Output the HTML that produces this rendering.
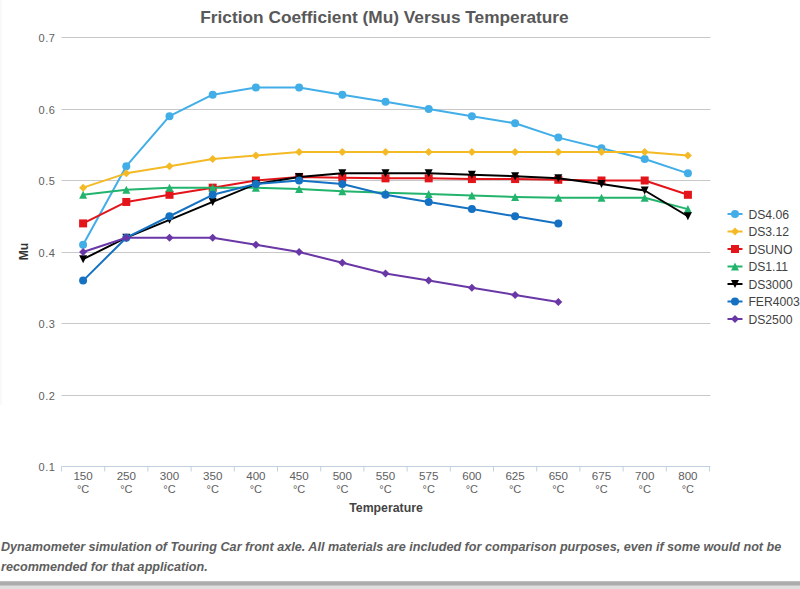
<!DOCTYPE html>
<html><head><meta charset="utf-8"><style>
html,body{margin:0;padding:0;background:#fff;}
body{width:800px;height:589px;position:relative;overflow:hidden;}
.cap{position:absolute;left:1px;top:536.5px;width:800px;font-family:"Liberation Sans",sans-serif;font-weight:bold;font-style:italic;font-size:12.62px;line-height:20.2px;color:#5e5e5e;white-space:nowrap;}
.shadow{position:absolute;left:0;top:581px;width:800px;height:8px;background:linear-gradient(#BEBEBE 0,#BEBEBE 1px,#ACACAC 1px,#ACACAC 4px,#C4C4C4 4px,#C4C4C4 5px,#DEDEDE 5px);}
.edge{position:absolute;left:0;top:0;width:2px;height:405px;background:#F9F9F9;}
</style></head><body>
<div class="edge"></div>
<svg width="800" height="525" viewBox="0 0 800 525" style="position:absolute;left:0;top:0"><path d="M61.5 37.5H710.5" stroke="#C8C8C8" stroke-width="1" fill="none"/><path d="M61.5 109.5H710.5" stroke="#C8C8C8" stroke-width="1" fill="none"/><path d="M61.5 180.5H710.5" stroke="#C8C8C8" stroke-width="1" fill="none"/><path d="M61.5 252.5H710.5" stroke="#C8C8C8" stroke-width="1" fill="none"/><path d="M61.5 323.5H710.5" stroke="#C8C8C8" stroke-width="1" fill="none"/><path d="M61.5 395.5H710.5" stroke="#C8C8C8" stroke-width="1" fill="none"/><path d="M61.5 466.5H710.5" stroke="#C0D0E0" stroke-width="1" fill="none"/><path d="M61.50 466.5V471.5" stroke="#C0D0E0" stroke-width="1" fill="none"/><path d="M104.70 466.5V471.5" stroke="#C0D0E0" stroke-width="1" fill="none"/><path d="M147.90 466.5V471.5" stroke="#C0D0E0" stroke-width="1" fill="none"/><path d="M191.10 466.5V471.5" stroke="#C0D0E0" stroke-width="1" fill="none"/><path d="M234.30 466.5V471.5" stroke="#C0D0E0" stroke-width="1" fill="none"/><path d="M277.50 466.5V471.5" stroke="#C0D0E0" stroke-width="1" fill="none"/><path d="M320.70 466.5V471.5" stroke="#C0D0E0" stroke-width="1" fill="none"/><path d="M363.90 466.5V471.5" stroke="#C0D0E0" stroke-width="1" fill="none"/><path d="M407.10 466.5V471.5" stroke="#C0D0E0" stroke-width="1" fill="none"/><path d="M450.30 466.5V471.5" stroke="#C0D0E0" stroke-width="1" fill="none"/><path d="M493.50 466.5V471.5" stroke="#C0D0E0" stroke-width="1" fill="none"/><path d="M536.70 466.5V471.5" stroke="#C0D0E0" stroke-width="1" fill="none"/><path d="M579.90 466.5V471.5" stroke="#C0D0E0" stroke-width="1" fill="none"/><path d="M623.10 466.5V471.5" stroke="#C0D0E0" stroke-width="1" fill="none"/><path d="M666.30 466.5V471.5" stroke="#C0D0E0" stroke-width="1" fill="none"/><path d="M709.50 466.5V471.5" stroke="#C0D0E0" stroke-width="1" fill="none"/><text x="55.6" y="42.0" text-anchor="end" font-size="11" letter-spacing="0.6" fill="#606060" font-family="Liberation Sans, sans-serif">0.7</text><text x="55.6" y="114.0" text-anchor="end" font-size="11" letter-spacing="0.6" fill="#606060" font-family="Liberation Sans, sans-serif">0.6</text><text x="55.6" y="185.0" text-anchor="end" font-size="11" letter-spacing="0.6" fill="#606060" font-family="Liberation Sans, sans-serif">0.5</text><text x="55.6" y="257.0" text-anchor="end" font-size="11" letter-spacing="0.6" fill="#606060" font-family="Liberation Sans, sans-serif">0.4</text><text x="55.6" y="328.0" text-anchor="end" font-size="11" letter-spacing="0.6" fill="#606060" font-family="Liberation Sans, sans-serif">0.3</text><text x="55.6" y="400.0" text-anchor="end" font-size="11" letter-spacing="0.6" fill="#606060" font-family="Liberation Sans, sans-serif">0.2</text><text x="55.6" y="471.0" text-anchor="end" font-size="11" letter-spacing="0.6" fill="#606060" font-family="Liberation Sans, sans-serif">0.1</text><text x="83.1" y="479.6" text-anchor="middle" font-size="11.6" fill="#606060" font-family="Liberation Sans, sans-serif">150</text><text x="83.1" y="493" text-anchor="middle" font-size="11" fill="#606060" font-family="Liberation Sans, sans-serif">°C</text><text x="126.3" y="479.6" text-anchor="middle" font-size="11.6" fill="#606060" font-family="Liberation Sans, sans-serif">250</text><text x="126.3" y="493" text-anchor="middle" font-size="11" fill="#606060" font-family="Liberation Sans, sans-serif">°C</text><text x="169.5" y="479.6" text-anchor="middle" font-size="11.6" fill="#606060" font-family="Liberation Sans, sans-serif">300</text><text x="169.5" y="493" text-anchor="middle" font-size="11" fill="#606060" font-family="Liberation Sans, sans-serif">°C</text><text x="212.7" y="479.6" text-anchor="middle" font-size="11.6" fill="#606060" font-family="Liberation Sans, sans-serif">350</text><text x="212.7" y="493" text-anchor="middle" font-size="11" fill="#606060" font-family="Liberation Sans, sans-serif">°C</text><text x="255.9" y="479.6" text-anchor="middle" font-size="11.6" fill="#606060" font-family="Liberation Sans, sans-serif">400</text><text x="255.9" y="493" text-anchor="middle" font-size="11" fill="#606060" font-family="Liberation Sans, sans-serif">°C</text><text x="299.1" y="479.6" text-anchor="middle" font-size="11.6" fill="#606060" font-family="Liberation Sans, sans-serif">450</text><text x="299.1" y="493" text-anchor="middle" font-size="11" fill="#606060" font-family="Liberation Sans, sans-serif">°C</text><text x="342.3" y="479.6" text-anchor="middle" font-size="11.6" fill="#606060" font-family="Liberation Sans, sans-serif">500</text><text x="342.3" y="493" text-anchor="middle" font-size="11" fill="#606060" font-family="Liberation Sans, sans-serif">°C</text><text x="385.5" y="479.6" text-anchor="middle" font-size="11.6" fill="#606060" font-family="Liberation Sans, sans-serif">550</text><text x="385.5" y="493" text-anchor="middle" font-size="11" fill="#606060" font-family="Liberation Sans, sans-serif">°C</text><text x="428.7" y="479.6" text-anchor="middle" font-size="11.6" fill="#606060" font-family="Liberation Sans, sans-serif">575</text><text x="428.7" y="493" text-anchor="middle" font-size="11" fill="#606060" font-family="Liberation Sans, sans-serif">°C</text><text x="471.9" y="479.6" text-anchor="middle" font-size="11.6" fill="#606060" font-family="Liberation Sans, sans-serif">600</text><text x="471.9" y="493" text-anchor="middle" font-size="11" fill="#606060" font-family="Liberation Sans, sans-serif">°C</text><text x="515.1" y="479.6" text-anchor="middle" font-size="11.6" fill="#606060" font-family="Liberation Sans, sans-serif">625</text><text x="515.1" y="493" text-anchor="middle" font-size="11" fill="#606060" font-family="Liberation Sans, sans-serif">°C</text><text x="558.3" y="479.6" text-anchor="middle" font-size="11.6" fill="#606060" font-family="Liberation Sans, sans-serif">650</text><text x="558.3" y="493" text-anchor="middle" font-size="11" fill="#606060" font-family="Liberation Sans, sans-serif">°C</text><text x="601.5" y="479.6" text-anchor="middle" font-size="11.6" fill="#606060" font-family="Liberation Sans, sans-serif">675</text><text x="601.5" y="493" text-anchor="middle" font-size="11" fill="#606060" font-family="Liberation Sans, sans-serif">°C</text><text x="644.7" y="479.6" text-anchor="middle" font-size="11.6" fill="#606060" font-family="Liberation Sans, sans-serif">700</text><text x="644.7" y="493" text-anchor="middle" font-size="11" fill="#606060" font-family="Liberation Sans, sans-serif">°C</text><text x="687.9" y="479.6" text-anchor="middle" font-size="11.6" fill="#606060" font-family="Liberation Sans, sans-serif">800</text><text x="687.9" y="493" text-anchor="middle" font-size="11" fill="#606060" font-family="Liberation Sans, sans-serif">°C</text><path d="M83.10 244.85 L126.30 166.20 L169.50 116.15 L212.70 94.70 L255.90 87.55 L299.10 87.55 L342.30 94.70 L385.50 101.85 L428.70 109.00 L471.90 116.15 L515.10 123.30 L558.30 137.60 L601.50 148.32 L644.70 159.05 L687.90 173.35" stroke="#42AEE8" stroke-width="2" fill="none" stroke-linejoin="round" stroke-linecap="round"/><circle cx="83.10" cy="244.85" r="4" fill="#42AEE8"/><circle cx="126.30" cy="166.20" r="4" fill="#42AEE8"/><circle cx="169.50" cy="116.15" r="4" fill="#42AEE8"/><circle cx="212.70" cy="94.70" r="4" fill="#42AEE8"/><circle cx="255.90" cy="87.55" r="4" fill="#42AEE8"/><circle cx="299.10" cy="87.55" r="4" fill="#42AEE8"/><circle cx="342.30" cy="94.70" r="4" fill="#42AEE8"/><circle cx="385.50" cy="101.85" r="4" fill="#42AEE8"/><circle cx="428.70" cy="109.00" r="4" fill="#42AEE8"/><circle cx="471.90" cy="116.15" r="4" fill="#42AEE8"/><circle cx="515.10" cy="123.30" r="4" fill="#42AEE8"/><circle cx="558.30" cy="137.60" r="4" fill="#42AEE8"/><circle cx="601.50" cy="148.32" r="4" fill="#42AEE8"/><circle cx="644.70" cy="159.05" r="4" fill="#42AEE8"/><circle cx="687.90" cy="173.35" r="4" fill="#42AEE8"/><path d="M83.10 187.65 L126.30 173.35 L169.50 166.20 L212.70 159.05 L255.90 155.47 L299.10 151.90 L342.30 151.90 L385.50 151.90 L428.70 151.90 L471.90 151.90 L515.10 151.90 L558.30 151.90 L601.50 151.90 L644.70 151.90 L687.90 155.47" stroke="#F4BA26" stroke-width="2" fill="none" stroke-linejoin="round" stroke-linecap="round"/><path d="M83.10 183.65L87.10 187.65L83.10 191.65L79.10 187.65Z" fill="#F4BA26"/><path d="M126.30 169.35L130.30 173.35L126.30 177.35L122.30 173.35Z" fill="#F4BA26"/><path d="M169.50 162.20L173.50 166.20L169.50 170.20L165.50 166.20Z" fill="#F4BA26"/><path d="M212.70 155.05L216.70 159.05L212.70 163.05L208.70 159.05Z" fill="#F4BA26"/><path d="M255.90 151.47L259.90 155.47L255.90 159.47L251.90 155.47Z" fill="#F4BA26"/><path d="M299.10 147.90L303.10 151.90L299.10 155.90L295.10 151.90Z" fill="#F4BA26"/><path d="M342.30 147.90L346.30 151.90L342.30 155.90L338.30 151.90Z" fill="#F4BA26"/><path d="M385.50 147.90L389.50 151.90L385.50 155.90L381.50 151.90Z" fill="#F4BA26"/><path d="M428.70 147.90L432.70 151.90L428.70 155.90L424.70 151.90Z" fill="#F4BA26"/><path d="M471.90 147.90L475.90 151.90L471.90 155.90L467.90 151.90Z" fill="#F4BA26"/><path d="M515.10 147.90L519.10 151.90L515.10 155.90L511.10 151.90Z" fill="#F4BA26"/><path d="M558.30 147.90L562.30 151.90L558.30 155.90L554.30 151.90Z" fill="#F4BA26"/><path d="M601.50 147.90L605.50 151.90L601.50 155.90L597.50 151.90Z" fill="#F4BA26"/><path d="M644.70 147.90L648.70 151.90L644.70 155.90L640.70 151.90Z" fill="#F4BA26"/><path d="M687.90 151.47L691.90 155.47L687.90 159.47L683.90 155.47Z" fill="#F4BA26"/><path d="M83.10 223.40 L126.30 201.95 L169.50 194.80 L212.70 187.65 L255.90 180.50 L299.10 176.92 L342.30 177.64 L385.50 178.35 L428.70 178.35 L471.90 179.07 L515.10 179.07 L558.30 179.78 L601.50 180.50 L644.70 180.50 L687.90 194.80" stroke="#E3151B" stroke-width="2" fill="none" stroke-linejoin="round" stroke-linecap="round"/><rect x="79.10" y="219.40" width="8" height="8" fill="#E3151B"/><rect x="122.30" y="197.95" width="8" height="8" fill="#E3151B"/><rect x="165.50" y="190.80" width="8" height="8" fill="#E3151B"/><rect x="208.70" y="183.65" width="8" height="8" fill="#E3151B"/><rect x="251.90" y="176.50" width="8" height="8" fill="#E3151B"/><rect x="295.10" y="172.92" width="8" height="8" fill="#E3151B"/><rect x="338.30" y="173.64" width="8" height="8" fill="#E3151B"/><rect x="381.50" y="174.35" width="8" height="8" fill="#E3151B"/><rect x="424.70" y="174.35" width="8" height="8" fill="#E3151B"/><rect x="467.90" y="175.07" width="8" height="8" fill="#E3151B"/><rect x="511.10" y="175.07" width="8" height="8" fill="#E3151B"/><rect x="554.30" y="175.78" width="8" height="8" fill="#E3151B"/><rect x="597.50" y="176.50" width="8" height="8" fill="#E3151B"/><rect x="640.70" y="176.50" width="8" height="8" fill="#E3151B"/><rect x="683.90" y="190.80" width="8" height="8" fill="#E3151B"/><path d="M83.10 194.80 L126.30 189.79 L169.50 187.65 L212.70 187.65 L255.90 187.65 L299.10 189.08 L342.30 191.22 L385.50 192.66 L428.70 194.09 L471.90 195.51 L515.10 196.94 L558.30 197.66 L601.50 197.66 L644.70 197.66 L687.90 209.10" stroke="#22B46C" stroke-width="2" fill="none" stroke-linejoin="round" stroke-linecap="round"/><path d="M83.10 190.80L87.10 198.80L79.10 198.80Z" fill="#22B46C"/><path d="M126.30 185.79L130.30 193.79L122.30 193.79Z" fill="#22B46C"/><path d="M169.50 183.65L173.50 191.65L165.50 191.65Z" fill="#22B46C"/><path d="M212.70 183.65L216.70 191.65L208.70 191.65Z" fill="#22B46C"/><path d="M255.90 183.65L259.90 191.65L251.90 191.65Z" fill="#22B46C"/><path d="M299.10 185.08L303.10 193.08L295.10 193.08Z" fill="#22B46C"/><path d="M342.30 187.22L346.30 195.22L338.30 195.22Z" fill="#22B46C"/><path d="M385.50 188.66L389.50 196.66L381.50 196.66Z" fill="#22B46C"/><path d="M428.70 190.09L432.70 198.09L424.70 198.09Z" fill="#22B46C"/><path d="M471.90 191.51L475.90 199.51L467.90 199.51Z" fill="#22B46C"/><path d="M515.10 192.94L519.10 200.94L511.10 200.94Z" fill="#22B46C"/><path d="M558.30 193.66L562.30 201.66L554.30 201.66Z" fill="#22B46C"/><path d="M601.50 193.66L605.50 201.66L597.50 201.66Z" fill="#22B46C"/><path d="M644.70 193.66L648.70 201.66L640.70 201.66Z" fill="#22B46C"/><path d="M687.90 205.10L691.90 213.10L683.90 213.10Z" fill="#22B46C"/><path d="M83.10 259.15 L126.30 237.70 L169.50 219.82 L212.70 201.95 L255.90 184.07 L299.10 176.92 L342.30 173.35 L385.50 173.35 L428.70 173.35 L471.90 174.78 L515.10 176.21 L558.30 178.35 L601.50 184.07 L644.70 190.51 L687.90 216.25" stroke="#000000" stroke-width="2" fill="none" stroke-linejoin="round" stroke-linecap="round"/><path d="M79.10 255.15L87.10 255.15L83.10 263.15Z" fill="#000000"/><path d="M122.30 233.70L130.30 233.70L126.30 241.70Z" fill="#000000"/><path d="M165.50 215.82L173.50 215.82L169.50 223.82Z" fill="#000000"/><path d="M208.70 197.95L216.70 197.95L212.70 205.95Z" fill="#000000"/><path d="M251.90 180.07L259.90 180.07L255.90 188.07Z" fill="#000000"/><path d="M295.10 172.92L303.10 172.92L299.10 180.92Z" fill="#000000"/><path d="M338.30 169.35L346.30 169.35L342.30 177.35Z" fill="#000000"/><path d="M381.50 169.35L389.50 169.35L385.50 177.35Z" fill="#000000"/><path d="M424.70 169.35L432.70 169.35L428.70 177.35Z" fill="#000000"/><path d="M467.90 170.78L475.90 170.78L471.90 178.78Z" fill="#000000"/><path d="M511.10 172.21L519.10 172.21L515.10 180.21Z" fill="#000000"/><path d="M554.30 174.35L562.30 174.35L558.30 182.35Z" fill="#000000"/><path d="M597.50 180.07L605.50 180.07L601.50 188.07Z" fill="#000000"/><path d="M640.70 186.51L648.70 186.51L644.70 194.51Z" fill="#000000"/><path d="M683.90 212.25L691.90 212.25L687.90 220.25Z" fill="#000000"/><path d="M83.10 280.60 L126.30 237.70 L169.50 216.25 L212.70 194.80 L255.90 184.07 L299.10 180.50 L342.30 184.07 L385.50 194.80 L428.70 201.95 L471.90 209.10 L515.10 216.25 L558.30 223.40" stroke="#1571C2" stroke-width="2" fill="none" stroke-linejoin="round" stroke-linecap="round"/><circle cx="83.10" cy="280.60" r="4" fill="#1571C2"/><circle cx="126.30" cy="237.70" r="4" fill="#1571C2"/><circle cx="169.50" cy="216.25" r="4" fill="#1571C2"/><circle cx="212.70" cy="194.80" r="4" fill="#1571C2"/><circle cx="255.90" cy="184.07" r="4" fill="#1571C2"/><circle cx="299.10" cy="180.50" r="4" fill="#1571C2"/><circle cx="342.30" cy="184.07" r="4" fill="#1571C2"/><circle cx="385.50" cy="194.80" r="4" fill="#1571C2"/><circle cx="428.70" cy="201.95" r="4" fill="#1571C2"/><circle cx="471.90" cy="209.10" r="4" fill="#1571C2"/><circle cx="515.10" cy="216.25" r="4" fill="#1571C2"/><circle cx="558.30" cy="223.40" r="4" fill="#1571C2"/><path d="M83.10 252.00 L126.30 237.70 L169.50 237.70 L212.70 237.70 L255.90 244.85 L299.10 252.00 L342.30 262.73 L385.50 273.45 L428.70 280.60 L471.90 287.75 L515.10 294.90 L558.30 302.05" stroke="#6A37A6" stroke-width="2" fill="none" stroke-linejoin="round" stroke-linecap="round"/><path d="M83.10 248.00L87.10 252.00L83.10 256.00L79.10 252.00Z" fill="#6A37A6"/><path d="M126.30 233.70L130.30 237.70L126.30 241.70L122.30 237.70Z" fill="#6A37A6"/><path d="M169.50 233.70L173.50 237.70L169.50 241.70L165.50 237.70Z" fill="#6A37A6"/><path d="M212.70 233.70L216.70 237.70L212.70 241.70L208.70 237.70Z" fill="#6A37A6"/><path d="M255.90 240.85L259.90 244.85L255.90 248.85L251.90 244.85Z" fill="#6A37A6"/><path d="M299.10 248.00L303.10 252.00L299.10 256.00L295.10 252.00Z" fill="#6A37A6"/><path d="M342.30 258.73L346.30 262.73L342.30 266.73L338.30 262.73Z" fill="#6A37A6"/><path d="M385.50 269.45L389.50 273.45L385.50 277.45L381.50 273.45Z" fill="#6A37A6"/><path d="M428.70 276.60L432.70 280.60L428.70 284.60L424.70 280.60Z" fill="#6A37A6"/><path d="M471.90 283.75L475.90 287.75L471.90 291.75L467.90 287.75Z" fill="#6A37A6"/><path d="M515.10 290.90L519.10 294.90L515.10 298.90L511.10 294.90Z" fill="#6A37A6"/><path d="M558.30 298.05L562.30 302.05L558.30 306.05L554.30 302.05Z" fill="#6A37A6"/><text x="384.5" y="23.1" text-anchor="middle" font-size="17.3" font-weight="bold" fill="#585858" font-family="Liberation Sans, sans-serif">Friction Coefficient (Mu) Versus Temperature</text><text x="386" y="511.9" text-anchor="middle" font-size="12.3" font-weight="bold" fill="#444444" font-family="Liberation Sans, sans-serif">Temperature</text><text transform="translate(28 251.5) rotate(-90)" x="0" y="0" text-anchor="middle" font-size="12.2" font-weight="bold" fill="#333333" font-family="Liberation Sans, sans-serif">Mu</text><path d="M727.5 214.0H742.5" stroke="#42AEE8" stroke-width="2" fill="none"/><circle cx="735.00" cy="214.00" r="4" fill="#42AEE8"/><text x="748.4" y="218.8" font-size="12.2" fill="#424242" font-family="Liberation Sans, sans-serif">DS4.06</text><path d="M727.5 231.5H742.5" stroke="#F4BA26" stroke-width="2" fill="none"/><path d="M735.00 227.50L739.00 231.50L735.00 235.50L731.00 231.50Z" fill="#F4BA26"/><text x="748.4" y="236.3" font-size="12.2" fill="#424242" font-family="Liberation Sans, sans-serif">DS3.12</text><path d="M727.5 249.0H742.5" stroke="#E3151B" stroke-width="2" fill="none"/><rect x="731.00" y="245.00" width="8" height="8" fill="#E3151B"/><text x="748.4" y="253.8" font-size="12.2" fill="#424242" font-family="Liberation Sans, sans-serif">DSUNO</text><path d="M727.5 266.5H742.5" stroke="#22B46C" stroke-width="2" fill="none"/><path d="M735.00 262.50L739.00 270.50L731.00 270.50Z" fill="#22B46C"/><text x="748.4" y="271.3" font-size="12.2" fill="#424242" font-family="Liberation Sans, sans-serif">DS1.11</text><path d="M727.5 284.0H742.5" stroke="#000000" stroke-width="2" fill="none"/><path d="M731.00 280.00L739.00 280.00L735.00 288.00Z" fill="#000000"/><text x="748.4" y="288.8" font-size="12.2" fill="#424242" font-family="Liberation Sans, sans-serif">DS3000</text><path d="M727.5 301.5H742.5" stroke="#1571C2" stroke-width="2" fill="none"/><circle cx="735.00" cy="301.50" r="4" fill="#1571C2"/><text x="748.4" y="306.3" font-size="12.2" fill="#424242" font-family="Liberation Sans, sans-serif">FER4003</text><path d="M727.5 319.0H742.5" stroke="#6A37A6" stroke-width="2" fill="none"/><path d="M735.00 315.00L739.00 319.00L735.00 323.00L731.00 319.00Z" fill="#6A37A6"/><text x="748.4" y="323.8" font-size="12.2" fill="#424242" font-family="Liberation Sans, sans-serif">DS2500</text></svg>
<div class="cap">Dynamometer simulation of Touring Car front axle. All materials are included for comparison purposes, even if some would not be<br>recommended for that application.</div>
<div class="shadow"></div>
</body></html>
